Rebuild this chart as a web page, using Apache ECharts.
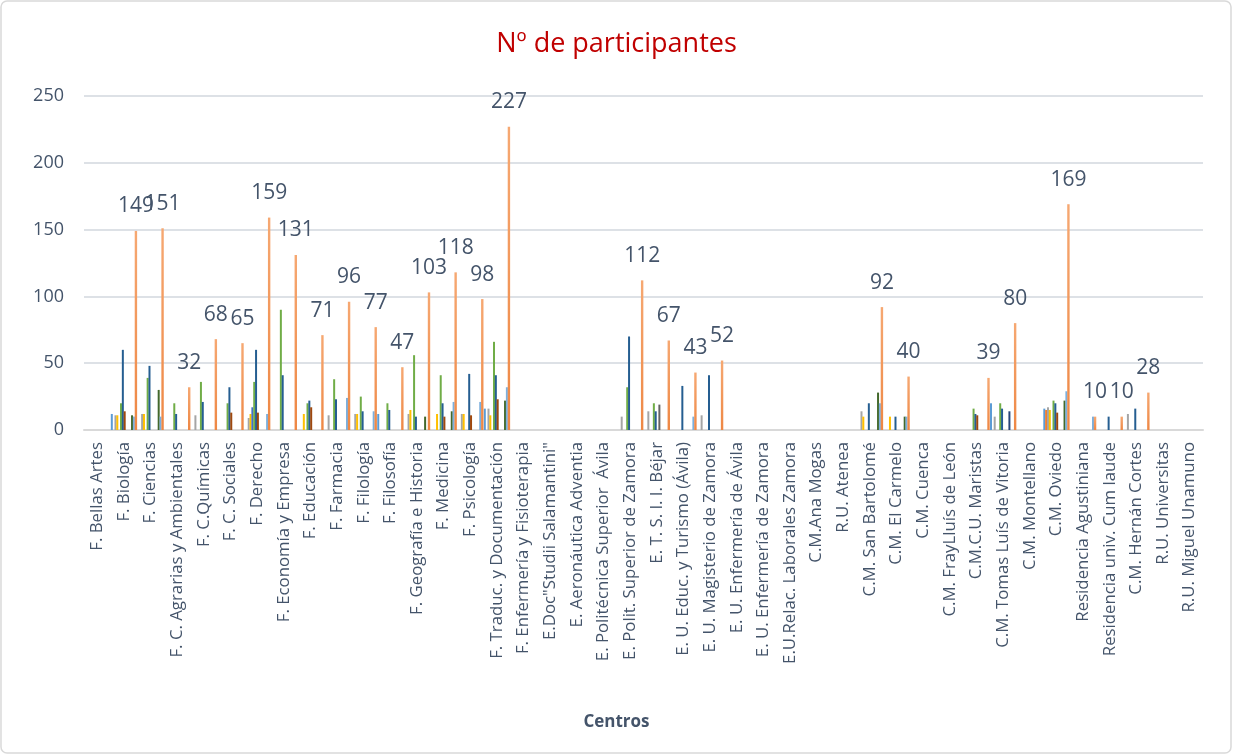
<!DOCTYPE html>
<html lang="es">
<head>
    <meta charset="UTF-8">
    <title>Nº de participantes</title>
    <script src="https://cdn.jsdelivr.net/npm/echarts@6/dist/echarts.min.js"></script>
</head>
<style>
    body {
        margin: 0;
        padding: 0;
        background: #fff;
    }
    #main {
        width: 1233px;
        height: 755px;
    }
</style>
<body>
<div id="main"></div>
<script type="text/javascript">
    // centros (eje X)
    var centros = ['F. Bellas Artes', 'F. Biología', 'F. Ciencias', 'F. C. Agrarias y Ambientales', 'F. C.Químicas',
        'F. C. Sociales', 'F. Derecho', 'F. Economía y Empresa', 'F. Educación', 'F. Farmacia', 'F. Filología',
        'F. Filosofía', 'F. Geografía e Historia', 'F. Medicina', 'F. Psicología', 'F. Traduc. y Documentación',
        'F. Enfermería y Fisioterapia', 'E.Doc"Studii Salamantini"', 'E. Aeronáutica Adventia',
        'E. Politécnica Superior  Ávila', 'E. Polit. Superior de Zamora', 'E. T. S. I. I. Béjar',
        'E. U. Educ. y Turismo (Ávila)', 'E. U. Magisterio de Zamora', 'E. U. Enfermería de Ávila',
        'E. U. Enfermería de Zamora', 'E.U.Relac. Laborales Zamora', 'C.M.Ana Mogas', 'R.U. Atenea',
        'C.M. San Bartolomé', 'C.M. El Carmelo', 'C.M. Cuenca', 'C.M. FrayLluís de León', 'C.M.C.U. Maristas',
        'C.M. Tomas Luís de Vitoria', 'C.M. Montellano', 'C.M. Oviedo', 'Residencia Agustiniana',
        'Residencia univ. Cum laude', 'C.M. Hernán Cortes', 'R.U. Universitas', 'R.U. Miguel Unamuno'];

    var _ = null; // celda vacía

    //          BA Bio Cie Agr Qui Soc Der Eco Edu Far Flg Fls Geo Med Psi Tra Enf Doc Aer Avi Zam Bej Tur Mag EnA EnZ Rel Ana Ate SBa Car Cue Fra Mar Vit Mon Ovi Agu Cum Her Uni Una
    var serie1  = [_, 12, _,  _,  _,  _,  _,  _,  _,  _,  _,  12, _,  _,  _,  16, _,  _,  _,  _,  _,  _,  _,  _,  _,  _,  _,  _,  _,  _,  _,  _,  _,  _,  20, _,  16, _,  _,  _,  _,  _];
    var serie2  = [_, _,  _,  _,  _,  _,  _,  _,  _,  _,  _,  _,  _,  _,  _,  _,  _,  _,  _,  _,  _,  _,  _,  _,  _,  _,  _,  _,  _,  _,  _,  _,  _,  _,  _,  _,  15, _,  _,  _,  _,  _];
    var serie3  = [_, 11, 12, _,  11, _,  9,  _,  _,  11, 12, _,  12, _,  12, 16, _,  _,  _,  _,  10, 14, _,  11, _,  _,  _,  _,  _,  14, _,  _,  _,  _,  10, _,  17, _,  _,  12, _,  _];
    var serie4  = [_, 11, 12, _,  _,  _,  12, _,  12, _,  12, _,  15, 12, 12, 11, _,  _,  _,  _,  _,  _,  _,  _,  _,  _,  _,  _,  _,  10, 10, _,  _,  _,  _,  _,  15, _,  _,  _,  _,  _];
    var serie5  = [_, _,  _,  _,  _,  _,  17, _,  _,  _,  _,  _,  _,  _,  _,  _,  _,  _,  _,  _,  _,  _,  _,  _,  _,  _,  _,  _,  _,  _,  _,  _,  _,  _,  _,  _,  _,  _,  _,  _,  _,  _];
    var serie6  = [_, 20, 39, 20, 36, 20, 36, 90, 20, 38, 25, 20, 56, 41, _,  66, _,  _,  _,  _,  32, 20, _,  _,  _,  _,  _,  _,  _,  _,  _,  _,  _,  16, 20, _,  22, _,  _,  _,  _,  _];
    var serie7  = [_, 60, 48, 12, 21, 32, 60, 41, 22, 23, 14, 15, 10, 20, 42, 41, _,  _,  _,  _,  70, 14, 33, 41, _,  _,  _,  _,  _,  20, 10, _,  _,  12, 16, _,  20, _,  10, 16, _,  _];
    var serie8  = [_, 14, _,  _,  _,  13, 13, _,  17, _,  _,  _,  _,  10, 11, 23, _,  _,  _,  _,  _,  _,  _,  _,  _,  _,  _,  _,  _,  _,  _,  _,  _,  11, _,  _,  13, _,  _,  _,  _,  _];
    var serie9  = [_, _,  _,  _,  _,  _,  _,  _,  _,  _,  _,  _,  _,  _,  _,  _,  _,  _,  _,  _,  _,  19, _,  _,  _,  _,  _,  _,  _,  _,  _,  _,  _,  _,  _,  _,  _,  _,  _,  _,  _,  _];
    var serie10 = [_, _,  _,  _,  _,  _,  _,  _,  _,  _,  _,  _,  _,  _,  _,  _,  _,  _,  _,  _,  _,  _,  _,  _,  _,  _,  _,  _,  _,  _,  _,  _,  _,  _,  _,  _,  _,  _,  _,  _,  _,  _];
    var serie11 = [_, _,  _,  _,  _,  _,  _,  _,  _,  _,  _,  _,  _,  _,  _,  _,  _,  _,  _,  _,  _,  _,  _,  _,  _,  _,  _,  _,  _,  _,  _,  _,  _,  _,  14, _,  _,  _,  _,  _,  _,  _];
    var serie12 = [_, 11, 30, _,  _,  _,  _,  _,  _,  _,  _,  _,  10, 14, _,  22, _,  _,  _,  _,  _,  _,  _,  _,  _,  _,  _,  _,  _,  28, 10, _,  _,  _,  _,  _,  22, _,  _,  _,  _,  _];
    var serie13 = [_, 10, 10, _,  _,  _,  12, _,  _,  24, 14, _,  _,  21, 21, 32, _,  _,  _,  _,  _,  _,  10, _,  _,  _,  _,  _,  _,  20, 10, _,  _,  _,  _,  _,  29, 10, _,  _,  _,  _];
    var total   = [_, 149, 151, 32, 68, 65, 159, 131, 71, 96, 77, 47, 103, 118, 98, 227, _, _, _, _, 112, 67, 43, 52, _, _, _, _, _, 92, 40, _, _, 39, 80, _, 169, 10, 10, 28, _, _];

    var ejeY = [0, 50, 100, 150, 200, 250];

    var colores = ['#5B9BD5', '#ED7D31', '#A5A5A5', '#FFC000', '#4472C4', '#70AD47', '#255E91',
        '#9E480E', '#636363', '#997300', '#264478', '#43682B', '#7CAFDD'];
    var partes = [serie1, serie2, serie3, serie4, serie5, serie6, serie7, serie8, serie9, serie10,
        serie11, serie12, serie13];

    var myChart = echarts.init(document.getElementById('main'));

    var series = [];
    for (var i = 0; i < partes.length; i++) {
        series.push({
            name: 'Serie ' + (i + 1),
            type: 'bar',
            data: partes[i],
            barWidth: 2,
            itemStyle: {color: colores[i]}
        });
    }
    series.push({
        name: 'Total',
        type: 'bar',
        data: total,
        barWidth: 2.4,
        itemStyle: {
            color: new echarts.graphic.LinearGradient(0, 0, 0, 1, [
                {offset: 0, color: '#F6A872'},
                {offset: 1, color: '#EE8744'}
            ])
        },
        label: {
            show: true,
            position: 'top',
            distance: 14,
            fontFamily: 'Open Sans',
            fontSize: 21,
            color: '#44546A'
        }
    });
    series[0].barGap = '-8%';

    var option = {
        animation: false,
        title: {
            text: 'Nº de participantes',
            left: 'center',
            top: 26,
            textStyle: {
                fontFamily: 'Open Sans',
                fontSize: 27,
                fontWeight: 'normal',
                color: '#C00000'
            }
        },
        graphic: [{
            type: 'rect',
            shape: {x: 1, y: 1, width: 1230, height: 752, r: 6},
            style: {fill: 'none', stroke: '#D9D9D9', lineWidth: 1.5}
        }],
        grid: {
            left: 84,
            right: 30,
            top: 96,
            bottom: 325,
            outerBoundsMode: 'none'
        },
        xAxis: {
            type: 'category',
            data: centros,
            name: 'Centros',
            nameLocation: 'middle',
            nameGap: 284,
            nameTextStyle: {
                fontFamily: 'Open Sans',
                fontSize: 17,
                fontWeight: 'bold',
                color: '#44546A',
                padding: [0, 54, 0, 0]
            },
            axisTick: {show: false},
            axisLine: {lineStyle: {color: '#D9D9D9', width: 2}},
            axisLabel: {
                interval: 0,
                rotate: 90,
                margin: 12,
                fontFamily: 'Open Sans',
                fontSize: 16.8,
                color: '#44546A'
            }
        },
        yAxis: {
            type: 'value',
            min: ejeY[0],
            max: ejeY[ejeY.length - 1],
            interval: 50,
            axisLine: {show: false},
            axisTick: {show: false},
            splitLine: {lineStyle: {color: '#DDE1E6', width: 2}},
            axisLabel: {
                margin: 20,
                fontFamily: 'Open Sans',
                fontSize: 18,
                color: '#44546A'
            }
        },
        series: series
    };

    myChart.setOption(option);
</script>
</body>
</html>
